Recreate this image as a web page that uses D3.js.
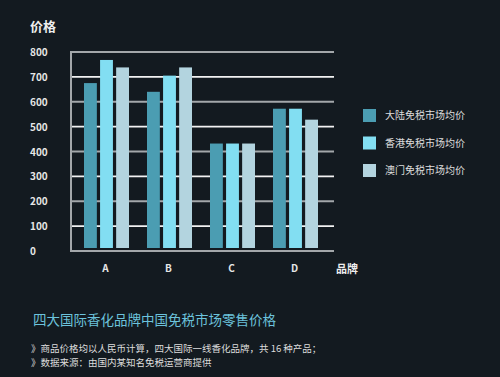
<!DOCTYPE html>
<html>
<head>
<meta charset="utf-8">
<script src="https://cdn.jsdelivr.net/npm/d3@7"></script>
<style>
  body { margin: 0; background: #131a20; }
  svg { display: block; font-family: "Noto Sans CJK SC", "DejaVu Sans", sans-serif; }
</style>
</head>
<body>
<div id="chart"></div>
<script>
// data
const brands = ["A", "B", "C", "D"];
const seriesNames = ["大陆免税市场均价", "香港免税市场均价", "澳门免税市场均价"];
const mainland = [675, 640, 432, 572];
const hongkong = [768, 705, 432, 572];
const macau = [738, 738, 432, 528];
const yTicks = [0, 100, 200, 300, 400, 500, 600, 700, 800];
const colors = ["#4b9db2", "#82def2", "#b3d4df"];

const W = 500, H = 377;
const svg = d3.select("#chart").append("svg")
    .attr("width", W)
    .attr("height", H);

svg.append("rect").attr("width", W).attr("height", H).attr("fill", "#131a20");

const values = [mainland, hongkong, macau];

// scales
const y = d3.scaleLinear().domain([0, 800]).range([251, 52]);
const x0 = d3.scaleBand().domain(brands).range([75, 327]);
const x1 = d3.scaleBand().domain(seriesNames).range([9, 54]).paddingInner(0.2);

// grid lines, alternating gray / white
svg.append("g").selectAll("line")
    .data(yTicks)
    .join("line")
    .attr("x1", 71)
    .attr("x2", 334)
    .attr("y1", d => y(d))
    .attr("y2", d => y(d))
    .attr("stroke", d => (d / 100) % 2 === 0 ? "#a3a7aa" : "#f2f2f2")
    .attr("stroke-width", d => (d / 100) % 2 === 0 ? 2 : 1.6);

// left axis line
svg.append("line")
    .attr("x1", 71).attr("x2", 71)
    .attr("y1", y(800) - 1).attr("y2", y(0) + 1)
    .attr("stroke", "#a3a7aa")
    .attr("stroke-width", 2);

// y tick labels
svg.append("g").selectAll("text")
    .data(yTicks)
    .join("text")
    .attr("x", 30)
    .attr("y", d => y(d) + 4)
    .attr("fill", "#e6e6e6")
    .attr("font-size", 10)
    .attr("font-weight", "bold")
    .text(d => d);

// bars
const groups = svg.append("g").selectAll("g")
    .data(brands)
    .join("g")
    .attr("transform", d => `translate(${x0(d)},0)`);

groups.selectAll("rect")
    .data((b, i) => seriesNames.map((s, k) => ({ key: s, value: values[k][i], k: k })))
    .join("rect")
    .attr("x", d => x1(d.key))
    .attr("width", x1.bandwidth())
    .attr("y", d => y(d.value))
    .attr("height", d => y(0) - 3 - y(d.value))
    .attr("fill", d => colors[d.k]);

// x labels
svg.append("g").selectAll("text")
    .data(brands)
    .join("text")
    .attr("x", d => x0(d) + x0.bandwidth() / 2 - 1)
    .attr("y", 272)
    .attr("text-anchor", "middle")
    .attr("fill", "#e6e6e6")
    .attr("font-size", 10)
    .attr("font-weight", "bold")
    .text(d => d);

// axis titles
svg.append("text")
    .attr("x", 30).attr("y", 31)
    .attr("fill", "#eeeeee")
    .attr("font-size", 13)
    .attr("font-weight", "bold")
    .text("价格");

svg.append("text")
    .attr("x", 336).attr("y", 273)
    .attr("fill", "#eeeeee")
    .attr("font-size", 11)
    .attr("font-weight", "bold")
    .text("品牌");

// legend
const legend = svg.append("g").selectAll("g")
    .data(seriesNames)
    .join("g")
    .attr("transform", (d, i) => `translate(363,${109 + i * 27.5})`);

legend.append("rect")
    .attr("width", 13).attr("height", 13)
    .attr("fill", (d, i) => colors[i]);

legend.append("text")
    .attr("x", 22).attr("y", 10)
    .attr("fill", "#dddddd")
    .attr("font-size", 10)
    .text(d => d);

// title and notes
svg.append("text")
    .attr("x", 33).attr("y", 325)
    .attr("fill", "#6cc3dc")
    .attr("font-size", 13.5)
    .text("四大国际香化品牌中国免税市场零售价格");

const notes = [
    "》商品价格均以人民币计算，四大国际一线香化品牌，共 16 种产品；",
    "》数据来源：由国内某知名免税运营商提供"
];
svg.append("g").selectAll("text")
    .data(notes)
    .join("text")
    .attr("x", 31)
    .attr("y", (d, i) => 352 + i * 14)
    .attr("fill", "#dddddd")
    .attr("font-size", 9.5)
    .text(d => d);
</script>
</body>
</html>
